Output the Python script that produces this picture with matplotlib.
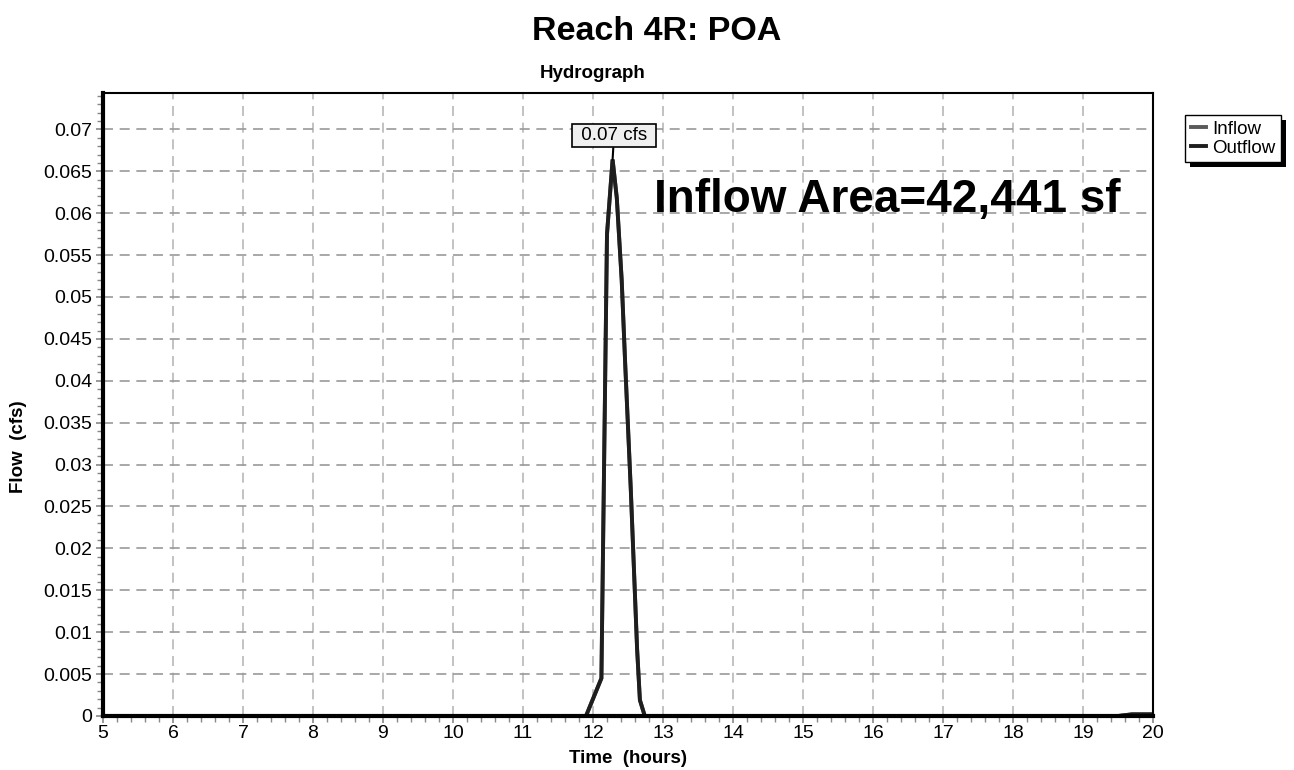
import matplotlib
matplotlib.use("Agg")
import matplotlib.pyplot as plt
from matplotlib.ticker import MultipleLocator, FuncFormatter
from matplotlib.patches import Rectangle

plt.rcParams['font.family'] = ['Liberation Sans', 'DejaVu Sans']

# Hydrograph ordinates (hours, cfs)
time_hr = [5.0, 11.90, 12.12, 12.20, 12.28, 12.34, 12.41, 12.46, 12.54,
           12.63, 12.67, 12.74, 19.50, 19.70, 20.0]
inflow_cfs = [0.0, 0.0, 0.0045, 0.0575, 0.0664, 0.0618, 0.0520, 0.0420,
              0.0270, 0.0080, 0.0019, 0.0, 0.0, 0.0002, 0.0002]
outflow_cfs = list(inflow_cfs)

series_names = ["Inflow", "Outflow"]
series_colors = ["#5a5a5a", "#1e1e1e"]

title = "Reach 4R: POA"
subtitle = "Hydrograph"
area_note = "Inflow Area=42,441 sf"
x_label = "Time  (hours)"
y_label = "Flow  (cfs)"

W, H = 1294, 770
fig = plt.figure(figsize=(W / 100, H / 100), dpi=100)
ax = fig.add_axes([103 / W, 54 / H, 1050 / W, 623 / H])

ax.plot(time_hr, inflow_cfs, color=series_colors[0], lw=2.8,
        solid_joinstyle='miter', label=series_names[0], zorder=3)
ax.plot(time_hr, outflow_cfs, color=series_colors[1], lw=2.8,
        solid_joinstyle='miter', label=series_names[1], zorder=4)

ax.set_xlim(5, 20)
ax.set_ylim(0, 0.07434)
ax.xaxis.set_major_locator(MultipleLocator(1))
ax.xaxis.set_minor_locator(MultipleLocator(0.2))
ax.yaxis.set_major_locator(MultipleLocator(0.005))
ax.yaxis.set_minor_locator(MultipleLocator(0.001))
ax.yaxis.set_major_formatter(
    FuncFormatter(lambda v, p: f"{v:.3f}".rstrip('0').rstrip('.') if v else "0"))
ax.xaxis.set_major_formatter(FuncFormatter(lambda v, p: f"{v:g}"))

ax.tick_params(axis='both', which='major', direction='out', length=5, width=1.2,
               color='#888888', labelsize=14, pad=2.5)
ax.tick_params(axis='x', which='major', pad=1.5)
ax.tick_params(axis='both', which='minor', direction='out', length=4, width=1.0,
               color='#888888')

ax.grid(True, axis='x', which='major', color='#b8b8b8', ls=(0, (6, 4)), lw=1.2)
ax.grid(True, axis='y', which='major', color='#999999', ls=(0, (6, 4)), lw=1.2)

for side in ['left', 'bottom']:
    ax.spines[side].set_linewidth(3.0)
for side in ['top', 'right']:
    ax.spines[side].set_linewidth(1.5)
for s in ax.spines.values():
    s.set_color('black')
    s.set_zorder(5)

ax.set_xlabel(x_label, fontsize=13.5, fontweight='bold', labelpad=6)
ax.set_ylabel(y_label, fontsize=13.5, fontweight='bold')
ax.yaxis.set_label_coords(-0.0724, 0.433)

fig.text(657 / W, 1 - 31 / H, title, ha='center', va='center',
         fontsize=24.5, fontweight='bold')
fig.text(593 / W, 1 - 74 / H, subtitle, ha='center', va='center',
         fontsize=13.5, fontweight='bold')

ax.text(0.525, 0.829, area_note, transform=ax.transAxes, ha='left', va='center',
        fontsize=33, fontweight='bold', zorder=6)

# Peak callout
peak = max(outflow_cfs)
peak_t = time_hr[outflow_cfs.index(peak)]
ax.annotate(f" {peak:.2f} cfs ", xy=(peak_t, peak), xytext=(peak_t + 0.02, 0.06927),
            ha='center', va='center', fontsize=13.5,
            bbox=dict(boxstyle='square,pad=0.18', fc='#f0f0f0', ec='black', lw=1.2),
            arrowprops=dict(arrowstyle='-', color='black', lw=1.5,
                            shrinkA=0, shrinkB=0), zorder=7)

# Legend with a hard drop shadow
handles, labels = ax.get_legend_handles_labels()
leg = fig.legend(handles, labels, loc='upper left',
                 bbox_to_anchor=(1185 / W, 1 - 115 / H),
                 frameon=True, fancybox=False, edgecolor='black', framealpha=1,
                 fontsize=13.5, handlelength=0.8, handletextpad=0.35,
                 borderpad=0.3, labelspacing=0.1, borderaxespad=0)
leg.get_frame().set_linewidth(1.0)
for ln in leg.get_lines():
    ln.set_linewidth(2.8)
fig.canvas.draw()
bb = leg.get_window_extent().transformed(fig.transFigure.inverted())
off_x, off_y = 5 / W, 5 / H
fig.patches.append(Rectangle((bb.x0 + off_x, bb.y0 - off_y), bb.width, bb.height,
                             transform=fig.transFigure, fc='black', ec='none',
                             zorder=leg.get_zorder() - 1))

fig.savefig("out.png", dpi=100)
